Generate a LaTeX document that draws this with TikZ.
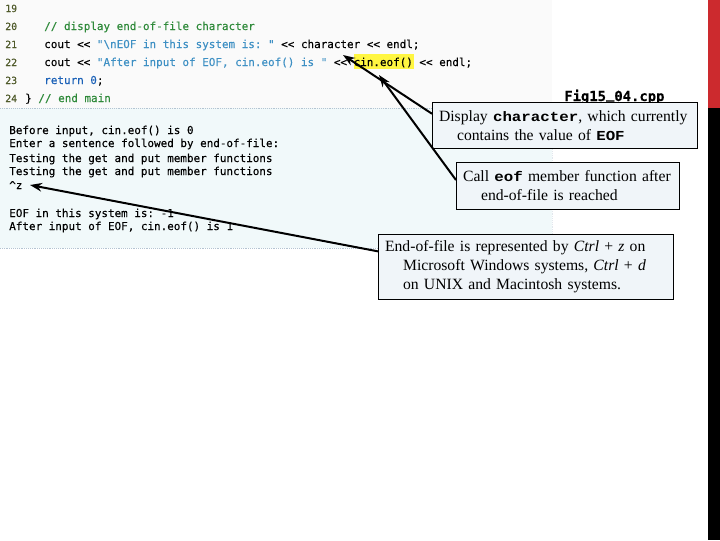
\documentclass[tikz,border=0pt]{standalone}
\usepackage{fontspec}
\setmainfont{Liberation Serif}
\setmonofont[FakeBold=0.2]{DejaVu Sans Mono}
\newfontfamily\calloutmono[FakeStretch=1.15]{Liberation Mono}
\usepackage{xcolor}
\usetikzlibrary{arrows.meta}
\definecolor{PanelTop}{HTML}{FAFAFA}
\definecolor{PanelOut}{HTML}{F1F9FA}
\definecolor{PanelLine}{HTML}{B4C4D2}
\definecolor{BoxFill}{HTML}{F0F5F9}
\definecolor{BarRed}{HTML}{CC2A2E}
\definecolor{LineNo}{HTML}{4F5A2A}
\definecolor{CodeGreen}{HTML}{2F8A3A}
\definecolor{CodeBlue}{HTML}{3E90C4}
\definecolor{CodeKey}{HTML}{1C62B8}
\definecolor{CodeMark}{HTML}{FFF642}
\newcommand{\cmt}[1]{\textcolor{CodeGreen}{#1}}
\newcommand{\str}[1]{\textcolor{CodeBlue}{#1}}
\newcommand{\kode}[1]{{\calloutmono\bfseries\fontsize{10.3}{14.3}\selectfont #1}}
\newcommand{\hung}[1]{\mbox{\hspace*{13.5pt}#1}}
\tikzset{
  lineno/.style={anchor=base west,inner sep=0pt,text=LineNo,font=\ttfamily\fontsize{7.4}{9}\selectfont},
  codeline/.style={anchor=base west,inner sep=0pt,font=\ttfamily\fontsize{8.2}{10}\selectfont},
  outline/.style={anchor=base west,inner sep=0pt,font=\ttfamily\fontsize{8.2}{10}\selectfont},
  callout/.style={draw=black,fill=BoxFill,line width=0.6pt,anchor=north west,align=left,inner xsep=5pt,inner ysep=0pt,
    font=\fontsize{11.75}{14.3}\selectfont},
  pointer/.style={-{Stealth[length=9pt,width=6.5pt]},line width=1.5pt,black}
}
\begin{document}
\begin{tikzpicture}[x=0.75pt,y=-0.75pt]
\useasboundingbox (0,0) rectangle (720,540);
\fill[color=white] (0,0) rectangle (720,540);
\fill[color=PanelTop] (0,0) rectangle (552,108);
\fill[color=PanelOut] (0,108) rectangle (552,248);
\fill[color=BarRed] (708,0) rectangle (720,108);
\fill[color=black] (708,108) rectangle (720,540);
\draw[color=PanelLine,densely dotted] (0,108) -- (552,108);
\draw[color=PanelLine,densely dotted] (0,248) -- (552,248);
\draw[color=PanelLine!40,densely dotted] (552,108) -- (552,248);
\fill[color=CodeMark] (354,54) rectangle (414,69);
% source lines
\node[lineno] (no19) at (5,12) {19};
\node[lineno] (no20) at (5,30) {20};
\node[lineno] (no21) at (5,48) {21};
\node[lineno] (no22) at (5,66) {22};
\node[lineno] (no23) at (5,84) {23};
\node[lineno] (no24) at (5,102) {24};
\node[codeline] (src20) at (44,30) {\cmt{// display end-of-file character}};
\node[codeline] (src21) at (44,48) {cout << \str{"\textbackslash nEOF in this system is: "} << character << endl;};
\node[codeline] (src22) at (44,66) {cout << \str{"After input of EOF, cin.eof() is "} << cin.eof() << endl;};
\node[codeline] (src23) at (44,84) {\textcolor{CodeKey}{return} \textcolor{CodeKey}{0};};
\node[codeline] (src24) at (25,102) {\} \cmt{// end main}};
% program output
\node[outline] (out1) at (9,134) {Before input, cin.eof() is 0};
\node[outline] (out2) at (9,147) {Enter a sentence followed by end-of-file:};
\node[outline] (out3) at (9,162) {Testing the get and put member functions};
\node[outline] (out4) at (9,175) {Testing the get and put member functions};
\node[outline] (out5) at (9,189) {\textasciicircum z};
\node[outline] (out6) at (9,217) {EOF in this system is: -1};
\node[outline] (out7) at (9,230) {After input of EOF, cin.eof() is 1};
\node[anchor=base west,inner sep=0pt,font=\ttfamily\bfseries\fontsize{10.4}{12}\selectfont] (figName) at (564,101) {Fig15\raisebox{2pt}{\_}04.cpp};
% arrow ends
\coordinate (charTip) at (343,55);
\coordinate (eofTip) at (379,75);
\coordinate (ctrlTip) at (30,185);
% callouts
\node[callout,text width=188.75pt,minimum height=34.5pt] (displayBox) at (432,102)
{\mbox{Display \kode{character}, which currently}\\\hung{contains the value of \kode{EOF}}};
\node[callout,text width=157.25pt,minimum height=35.25pt] (callBox) at (456,162)
{\mbox{Call \kode{eof} member function after}\\\hung{end-of-file is reached}};
\node[callout,text width=211.25pt,minimum height=48.75pt] (endBox) at (378,234)
{\mbox{End-of-file is represented by \textit{Ctrl} + \textit{z} on}\\\hung{Microsoft Windows systems, \textit{Ctrl} + \textit{d}}\\\hung{on UNIX and Macintosh systems.}};
\draw[pointer] (displayBox.175) -- (charTip);
\draw[pointer] (callBox.177) -- (eofTip);
\draw[pointer] (endBox.174) -- (ctrlTip);
\end{tikzpicture}
\end{document}
